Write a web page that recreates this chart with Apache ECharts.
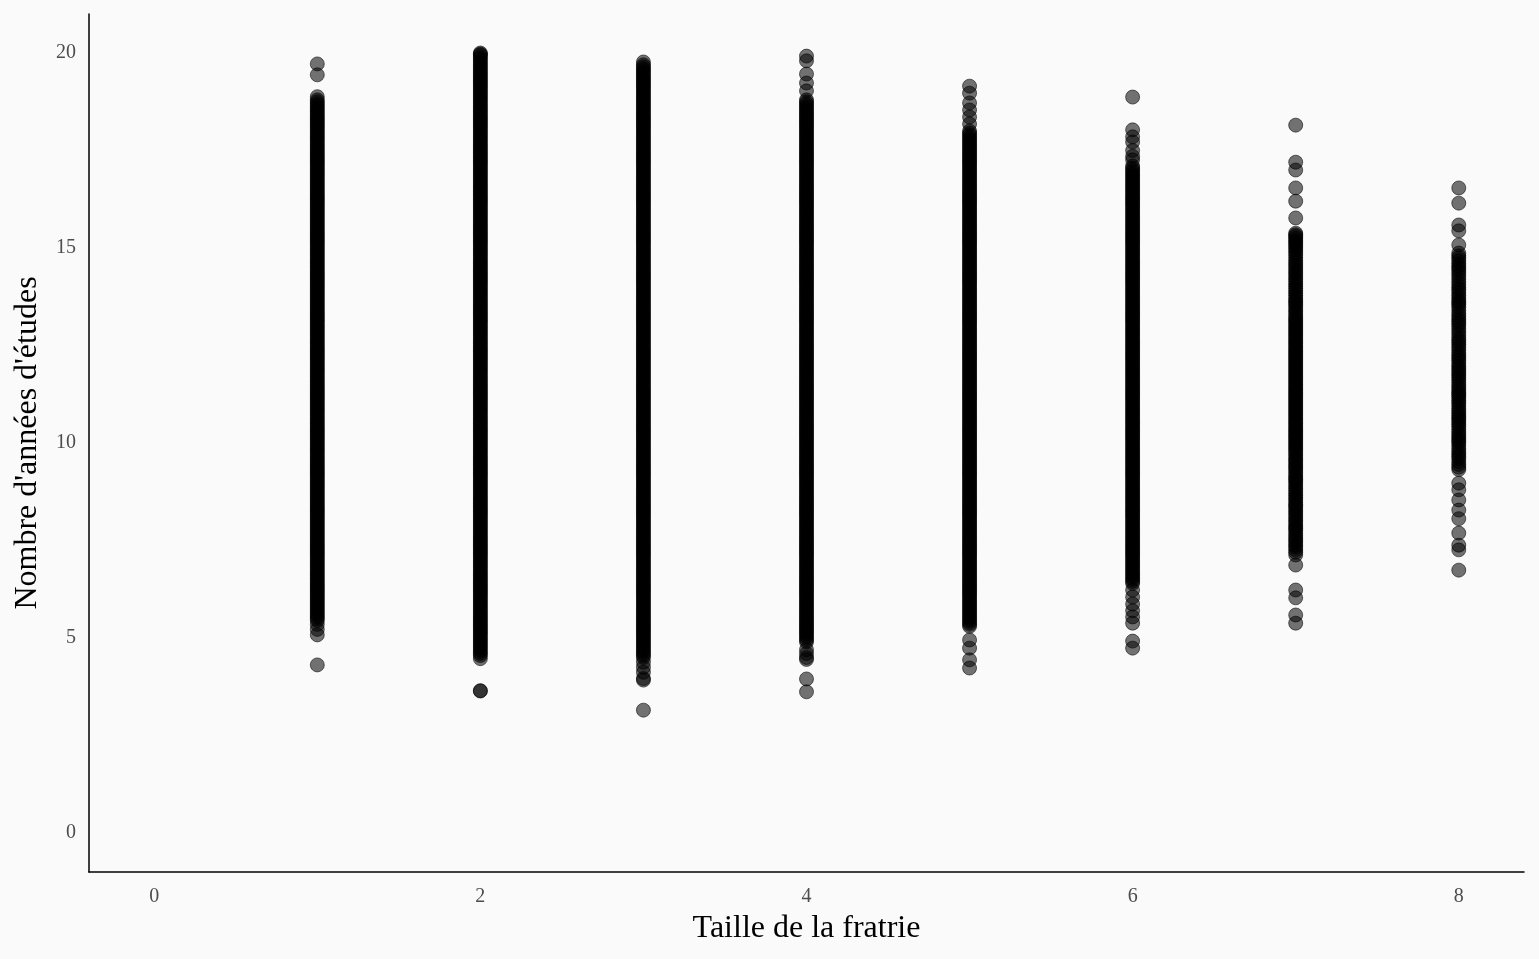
<!DOCTYPE html>
<html>
<head>
<meta charset="utf-8">
<title>Taille de la fratrie et années d'études</title>
<script src="https://cdn.jsdelivr.net/npm/echarts@6/dist/echarts.min.js"></script>
<style>
  html, body { margin: 0; padding: 0; background: #fafafa; }
  #chart { width: 1539px; height: 959px; }
</style>
</head>
<body>
<div id="chart"></div>
<script>
// Taille de la fratrie (x) de chaque groupe
const taillesFratrie = [1, 2, 3, 4, 5, 6, 7, 8];

// Nombre d'années d'études observées, par taille de fratrie
const etudesT1 = [
  4.31, 5.08, 5.22, 5.35, 5.45,
  5.5, 5.55, 5.6, 5.65, 5.7, 5.75, 5.8, 5.85, 5.9, 5.95,
  6, 6.05, 6.1, 6.15, 6.2, 6.25, 6.3, 6.35, 6.4, 6.45, 6.5, 6.55, 6.6, 6.65, 6.7, 6.75, 6.8, 6.85, 6.9, 6.95,
  7, 7.05, 7.1, 7.15, 7.2, 7.25, 7.3, 7.35, 7.4, 7.45, 7.5, 7.55, 7.6, 7.65, 7.7, 7.75, 7.8, 7.85, 7.9, 7.95,
  8, 8.05, 8.1, 8.15, 8.2, 8.25, 8.3, 8.35, 8.4, 8.45, 8.5, 8.55, 8.6, 8.65, 8.7, 8.75, 8.8, 8.85, 8.9, 8.95,
  9, 9.05, 9.1, 9.15, 9.2, 9.25, 9.3, 9.35, 9.4, 9.45, 9.5, 9.55, 9.6, 9.65, 9.7, 9.75, 9.8, 9.85, 9.9, 9.95,
  10, 10.05, 10.1, 10.15, 10.2, 10.25, 10.3, 10.35, 10.4, 10.45, 10.5, 10.55, 10.6, 10.65, 10.7, 10.75, 10.8, 10.85, 10.9, 10.95,
  11, 11.05, 11.1, 11.15, 11.2, 11.25, 11.3, 11.35, 11.4, 11.45, 11.5, 11.55, 11.6, 11.65, 11.7, 11.75, 11.8, 11.85, 11.9, 11.95,
  12, 12.05, 12.1, 12.15, 12.2, 12.25, 12.3, 12.35, 12.4, 12.45, 12.5, 12.55, 12.6, 12.65, 12.7, 12.75, 12.8, 12.85, 12.9, 12.95,
  13, 13.05, 13.1, 13.15, 13.2, 13.25, 13.3, 13.35, 13.4, 13.45, 13.5, 13.55, 13.6, 13.65, 13.7, 13.75, 13.8, 13.85, 13.9, 13.95,
  14, 14.05, 14.1, 14.15, 14.2, 14.25, 14.3, 14.35, 14.4, 14.45, 14.5, 14.55, 14.6, 14.65, 14.7, 14.75, 14.8, 14.85, 14.9, 14.95,
  15, 15.05, 15.1, 15.15, 15.2, 15.25, 15.3, 15.35, 15.4, 15.45, 15.5, 15.55, 15.6, 15.65, 15.7, 15.75, 15.8, 15.85, 15.9, 15.95,
  16, 16.05, 16.1, 16.15, 16.2, 16.25, 16.3, 16.35, 16.4, 16.45, 16.5, 16.55, 16.6, 16.65, 16.7, 16.75, 16.8, 16.85, 16.9, 16.95,
  17, 17.05, 17.1, 17.15, 17.2, 17.25, 17.3, 17.35, 17.4, 17.45, 17.5, 17.55, 17.6, 17.65, 17.7, 17.75, 17.8, 17.85, 17.9, 17.95,
  18, 18.05, 18.1, 18.15, 18.2, 18.25, 18.3, 18.35, 18.4, 18.45, 18.5, 18.55, 18.6, 18.65, 18.7, 18.75, 18.8, 18.88,
  19.44, 19.72
];
const etudesT2 = [
  3.64, 3.65, 4.47, 4.55,
  4.6, 4.65, 4.7, 4.75, 4.8, 4.85, 4.9, 4.95,
  5, 5.05, 5.1, 5.15, 5.2, 5.25, 5.3, 5.35, 5.4, 5.45, 5.5, 5.55, 5.6, 5.65, 5.7, 5.75, 5.8, 5.85, 5.9, 5.95,
  6, 6.05, 6.1, 6.15, 6.2, 6.25, 6.3, 6.35, 6.4, 6.45, 6.5, 6.55, 6.6, 6.65, 6.7, 6.75, 6.8, 6.85, 6.9, 6.95,
  7, 7.05, 7.1, 7.15, 7.2, 7.25, 7.3, 7.35, 7.4, 7.45, 7.5, 7.55, 7.6, 7.65, 7.7, 7.75, 7.8, 7.85, 7.9, 7.95,
  8, 8.05, 8.1, 8.15, 8.2, 8.25, 8.3, 8.35, 8.4, 8.45, 8.5, 8.55, 8.6, 8.65, 8.7, 8.75, 8.8, 8.85, 8.9, 8.95,
  9, 9.05, 9.1, 9.15, 9.2, 9.25, 9.3, 9.35, 9.4, 9.45, 9.5, 9.55, 9.6, 9.65, 9.7, 9.75, 9.8, 9.85, 9.9, 9.95,
  10, 10.05, 10.1, 10.15, 10.2, 10.25, 10.3, 10.35, 10.4, 10.45, 10.5, 10.55, 10.6, 10.65, 10.7, 10.75, 10.8, 10.85, 10.9, 10.95,
  11, 11.05, 11.1, 11.15, 11.2, 11.25, 11.3, 11.35, 11.4, 11.45, 11.5, 11.55, 11.6, 11.65, 11.7, 11.75, 11.8, 11.85, 11.9, 11.95,
  12, 12.05, 12.1, 12.15, 12.2, 12.25, 12.3, 12.35, 12.4, 12.45, 12.5, 12.55, 12.6, 12.65, 12.7, 12.75, 12.8, 12.85, 12.9, 12.95,
  13, 13.05, 13.1, 13.15, 13.2, 13.25, 13.3, 13.35, 13.4, 13.45, 13.5, 13.55, 13.6, 13.65, 13.7, 13.75, 13.8, 13.85, 13.9, 13.95,
  14, 14.05, 14.1, 14.15, 14.2, 14.25, 14.3, 14.35, 14.4, 14.45, 14.5, 14.55, 14.6, 14.65, 14.7, 14.75, 14.8, 14.85, 14.9, 14.95,
  15, 15.05, 15.1, 15.15, 15.2, 15.25, 15.3, 15.35, 15.4, 15.45, 15.5, 15.55, 15.6, 15.65, 15.7, 15.75, 15.8, 15.85, 15.9, 15.95,
  16, 16.05, 16.1, 16.15, 16.2, 16.25, 16.3, 16.35, 16.4, 16.45, 16.5, 16.55, 16.6, 16.65, 16.7, 16.75, 16.8, 16.85, 16.9, 16.95,
  17, 17.05, 17.1, 17.15, 17.2, 17.25, 17.3, 17.35, 17.4, 17.45, 17.5, 17.55, 17.6, 17.65, 17.7, 17.75, 17.8, 17.85, 17.9, 17.95,
  18, 18.05, 18.1, 18.15, 18.2, 18.25, 18.3, 18.35, 18.4, 18.45, 18.5, 18.55, 18.6, 18.65, 18.7, 18.75, 18.8, 18.85, 18.9, 18.95,
  19, 19.05, 19.1, 19.15, 19.2, 19.25, 19.3, 19.35, 19.4, 19.45, 19.5, 19.55, 19.6, 19.65, 19.7, 19.75, 19.8, 19.85, 19.9, 19.95,
  19.97, 20
];
const etudesT3 = [
  3.15, 3.92, 3.96, 4.12, 4.25, 4.38,
  4.5, 4.55, 4.6, 4.65, 4.7, 4.75, 4.8, 4.85, 4.9, 4.95,
  5, 5.05, 5.1, 5.15, 5.2, 5.25, 5.3, 5.35, 5.4, 5.45, 5.5, 5.55, 5.6, 5.65, 5.7, 5.75, 5.8, 5.85, 5.9, 5.95,
  6, 6.05, 6.1, 6.15, 6.2, 6.25, 6.3, 6.35, 6.4, 6.45, 6.5, 6.55, 6.6, 6.65, 6.7, 6.75, 6.8, 6.85, 6.9, 6.95,
  7, 7.05, 7.1, 7.15, 7.2, 7.25, 7.3, 7.35, 7.4, 7.45, 7.5, 7.55, 7.6, 7.65, 7.7, 7.75, 7.8, 7.85, 7.9, 7.95,
  8, 8.05, 8.1, 8.15, 8.2, 8.25, 8.3, 8.35, 8.4, 8.45, 8.5, 8.55, 8.6, 8.65, 8.7, 8.75, 8.8, 8.85, 8.9, 8.95,
  9, 9.05, 9.1, 9.15, 9.2, 9.25, 9.3, 9.35, 9.4, 9.45, 9.5, 9.55, 9.6, 9.65, 9.7, 9.75, 9.8, 9.85, 9.9, 9.95,
  10, 10.05, 10.1, 10.15, 10.2, 10.25, 10.3, 10.35, 10.4, 10.45, 10.5, 10.55, 10.6, 10.65, 10.7, 10.75, 10.8, 10.85, 10.9, 10.95,
  11, 11.05, 11.1, 11.15, 11.2, 11.25, 11.3, 11.35, 11.4, 11.45, 11.5, 11.55, 11.6, 11.65, 11.7, 11.75, 11.8, 11.85, 11.9, 11.95,
  12, 12.05, 12.1, 12.15, 12.2, 12.25, 12.3, 12.35, 12.4, 12.45, 12.5, 12.55, 12.6, 12.65, 12.7, 12.75, 12.8, 12.85, 12.9, 12.95,
  13, 13.05, 13.1, 13.15, 13.2, 13.25, 13.3, 13.35, 13.4, 13.45, 13.5, 13.55, 13.6, 13.65, 13.7, 13.75, 13.8, 13.85, 13.9, 13.95,
  14, 14.05, 14.1, 14.15, 14.2, 14.25, 14.3, 14.35, 14.4, 14.45, 14.5, 14.55, 14.6, 14.65, 14.7, 14.75, 14.8, 14.85, 14.9, 14.95,
  15, 15.05, 15.1, 15.15, 15.2, 15.25, 15.3, 15.35, 15.4, 15.45, 15.5, 15.55, 15.6, 15.65, 15.7, 15.75, 15.8, 15.85, 15.9, 15.95,
  16, 16.05, 16.1, 16.15, 16.2, 16.25, 16.3, 16.35, 16.4, 16.45, 16.5, 16.55, 16.6, 16.65, 16.7, 16.75, 16.8, 16.85, 16.9, 16.95,
  17, 17.05, 17.1, 17.15, 17.2, 17.25, 17.3, 17.35, 17.4, 17.45, 17.5, 17.55, 17.6, 17.65, 17.7, 17.75, 17.8, 17.85, 17.9, 17.95,
  18, 18.05, 18.1, 18.15, 18.2, 18.25, 18.3, 18.35, 18.4, 18.45, 18.5, 18.55, 18.6, 18.65, 18.7, 18.75, 18.8, 18.85, 18.9, 18.95,
  19, 19.05, 19.1, 19.15, 19.2, 19.25, 19.3, 19.35, 19.4, 19.45, 19.5, 19.55, 19.6, 19.65, 19.7, 19.77
];
const etudesT4 = [
  3.62, 3.95, 4.45, 4.5, 4.6, 4.7,
  4.9, 4.95,
  5, 5.05, 5.1, 5.15, 5.2, 5.25, 5.3, 5.35, 5.4, 5.45, 5.5, 5.55, 5.6, 5.65, 5.7, 5.75, 5.8, 5.85, 5.9, 5.95,
  6, 6.05, 6.1, 6.15, 6.2, 6.25, 6.3, 6.35, 6.4, 6.45, 6.5, 6.55, 6.6, 6.65, 6.7, 6.75, 6.8, 6.85, 6.9, 6.95,
  7, 7.05, 7.1, 7.15, 7.2, 7.25, 7.3, 7.35, 7.4, 7.45, 7.5, 7.55, 7.6, 7.65, 7.7, 7.75, 7.8, 7.85, 7.9, 7.95,
  8, 8.05, 8.1, 8.15, 8.2, 8.25, 8.3, 8.35, 8.4, 8.45, 8.5, 8.55, 8.6, 8.65, 8.7, 8.75, 8.8, 8.85, 8.9, 8.95,
  9, 9.05, 9.1, 9.15, 9.2, 9.25, 9.3, 9.35, 9.4, 9.45, 9.5, 9.55, 9.6, 9.65, 9.7, 9.75, 9.8, 9.85, 9.9, 9.95,
  10, 10.05, 10.1, 10.15, 10.2, 10.25, 10.3, 10.35, 10.4, 10.45, 10.5, 10.55, 10.6, 10.65, 10.7, 10.75, 10.8, 10.85, 10.9, 10.95,
  11, 11.05, 11.1, 11.15, 11.2, 11.25, 11.3, 11.35, 11.4, 11.45, 11.5, 11.55, 11.6, 11.65, 11.7, 11.75, 11.8, 11.85, 11.9, 11.95,
  12, 12.05, 12.1, 12.15, 12.2, 12.25, 12.3, 12.35, 12.4, 12.45, 12.5, 12.55, 12.6, 12.65, 12.7, 12.75, 12.8, 12.85, 12.9, 12.95,
  13, 13.05, 13.1, 13.15, 13.2, 13.25, 13.3, 13.35, 13.4, 13.45, 13.5, 13.55, 13.6, 13.65, 13.7, 13.75, 13.8, 13.85, 13.9, 13.95,
  14, 14.05, 14.1, 14.15, 14.2, 14.25, 14.3, 14.35, 14.4, 14.45, 14.5, 14.55, 14.6, 14.65, 14.7, 14.75, 14.8, 14.85, 14.9, 14.95,
  15, 15.05, 15.1, 15.15, 15.2, 15.25, 15.3, 15.35, 15.4, 15.45, 15.5, 15.55, 15.6, 15.65, 15.7, 15.75, 15.8, 15.85, 15.9, 15.95,
  16, 16.05, 16.1, 16.15, 16.2, 16.25, 16.3, 16.35, 16.4, 16.45, 16.5, 16.55, 16.6, 16.65, 16.7, 16.75, 16.8, 16.85, 16.9, 16.95,
  17, 17.05, 17.1, 17.15, 17.2, 17.25, 17.3, 17.35, 17.4, 17.45, 17.5, 17.55, 17.6, 17.65, 17.7, 17.75, 17.8, 17.85, 17.9, 17.95,
  18, 18.05, 18.1, 18.15, 18.2, 18.25, 18.3, 18.35, 18.4, 18.45, 18.5, 18.55, 18.6, 18.65, 18.7, 18.75, 18.8,
  19.03, 19.23, 19.46, 19.8, 19.92
];
const etudesT5 = [
  4.23, 4.44, 4.74, 4.95, 5.3, 5.35,
  5.4, 5.45, 5.5, 5.55, 5.6, 5.65, 5.7, 5.75, 5.8, 5.85, 5.9, 5.95,
  6, 6.05, 6.1, 6.15, 6.2, 6.25, 6.3, 6.35, 6.4, 6.45, 6.5, 6.55, 6.6, 6.65, 6.7, 6.75, 6.8, 6.85, 6.9, 6.95,
  7, 7.05, 7.1, 7.15, 7.2, 7.25, 7.3, 7.35, 7.4, 7.45, 7.5, 7.55, 7.6, 7.65, 7.7, 7.75, 7.8, 7.85, 7.9, 7.95,
  8, 8.05, 8.1, 8.15, 8.2, 8.25, 8.3, 8.35, 8.4, 8.45, 8.5, 8.55, 8.6, 8.65, 8.7, 8.75, 8.8, 8.85, 8.9, 8.95,
  9, 9.05, 9.1, 9.15, 9.2, 9.25, 9.3, 9.35, 9.4, 9.45, 9.5, 9.55, 9.6, 9.65, 9.7, 9.75, 9.8, 9.85, 9.9, 9.95,
  10, 10.05, 10.1, 10.15, 10.2, 10.25, 10.3, 10.35, 10.4, 10.45, 10.5, 10.55, 10.6, 10.65, 10.7, 10.75, 10.8, 10.85, 10.9, 10.95,
  11, 11.05, 11.1, 11.15, 11.2, 11.25, 11.3, 11.35, 11.4, 11.45, 11.5, 11.55, 11.6, 11.65, 11.7, 11.75, 11.8, 11.85, 11.9, 11.95,
  12, 12.05, 12.1, 12.15, 12.2, 12.25, 12.3, 12.35, 12.4, 12.45, 12.5, 12.55, 12.6, 12.65, 12.7, 12.75, 12.8, 12.85, 12.9, 12.95,
  13, 13.05, 13.1, 13.15, 13.2, 13.25, 13.3, 13.35, 13.4, 13.45, 13.5, 13.55, 13.6, 13.65, 13.7, 13.75, 13.8, 13.85, 13.9, 13.95,
  14, 14.05, 14.1, 14.15, 14.2, 14.25, 14.3, 14.35, 14.4, 14.45, 14.5, 14.55, 14.6, 14.65, 14.7, 14.75, 14.8, 14.85, 14.9, 14.95,
  15, 15.05, 15.1, 15.15, 15.2, 15.25, 15.3, 15.35, 15.4, 15.45, 15.5, 15.55, 15.6, 15.65, 15.7, 15.75, 15.8, 15.85, 15.9, 15.95,
  16, 16.05, 16.1, 16.15, 16.2, 16.25, 16.3, 16.35, 16.4, 16.45, 16.5, 16.55, 16.6, 16.65, 16.7, 16.75, 16.8, 16.85, 16.9, 16.95,
  17, 17.05, 17.1, 17.15, 17.2, 17.25, 17.3, 17.35, 17.4, 17.45, 17.5, 17.55, 17.6, 17.65, 17.7, 17.75, 17.8, 17.85, 17.9, 17.95,
  18, 18.18, 18.36, 18.54, 18.72, 18.97, 19.15
];
const etudesT6 = [
  4.74, 4.92, 5.38, 5.54, 5.7, 5.87, 6.05, 6.23,
  6.4, 6.45, 6.5, 6.55, 6.6, 6.65, 6.7, 6.75, 6.8, 6.85, 6.9, 6.95,
  7, 7.05, 7.1, 7.15, 7.2, 7.25, 7.3, 7.35, 7.4, 7.45, 7.5, 7.55, 7.6, 7.65, 7.7, 7.75, 7.8, 7.85, 7.9, 7.95,
  8, 8.05, 8.1, 8.15, 8.2, 8.25, 8.3, 8.35, 8.4, 8.45, 8.5, 8.55, 8.6, 8.65, 8.7, 8.75, 8.8, 8.85, 8.9, 8.95,
  9, 9.05, 9.1, 9.15, 9.2, 9.25, 9.3, 9.35, 9.4, 9.45, 9.5, 9.55, 9.6, 9.65, 9.7, 9.75, 9.8, 9.85, 9.9, 9.95,
  10, 10.05, 10.1, 10.15, 10.2, 10.25, 10.3, 10.35, 10.4, 10.45, 10.5, 10.55, 10.6, 10.65, 10.7, 10.75, 10.8, 10.85, 10.9, 10.95,
  11, 11.05, 11.1, 11.15, 11.2, 11.25, 11.3, 11.35, 11.4, 11.45, 11.5, 11.55, 11.6, 11.65, 11.7, 11.75, 11.8, 11.85, 11.9, 11.95,
  12, 12.05, 12.1, 12.15, 12.2, 12.25, 12.3, 12.35, 12.4, 12.45, 12.5, 12.55, 12.6, 12.65, 12.7, 12.75, 12.8, 12.85, 12.9, 12.95,
  13, 13.05, 13.1, 13.15, 13.2, 13.25, 13.3, 13.35, 13.4, 13.45, 13.5, 13.55, 13.6, 13.65, 13.7, 13.75, 13.8, 13.85, 13.9, 13.95,
  14, 14.05, 14.1, 14.15, 14.2, 14.25, 14.3, 14.35, 14.4, 14.45, 14.5, 14.55, 14.6, 14.65, 14.7, 14.75, 14.8, 14.85, 14.9, 14.95,
  15, 15.05, 15.1, 15.15, 15.2, 15.25, 15.3, 15.35, 15.4, 15.45, 15.5, 15.55, 15.6, 15.65, 15.7, 15.75, 15.8, 15.85, 15.9, 15.95,
  16, 16.05, 16.1, 16.15, 16.2, 16.25, 16.3, 16.35, 16.4, 16.45, 16.5, 16.55, 16.6, 16.65, 16.7, 16.75, 16.8, 16.85, 16.9, 16.95,
  17, 17.05, 17.1, 17.26, 17.35, 17.5, 17.72, 17.85, 18.03, 18.87
];
const etudesT7 = [
  5.38, 5.59, 6.03, 6.23, 6.87, 7.13, 7.2, 7.26,
  7.33, 7.38, 7.45, 7.5, 7.56, 7.62, 7.68, 7.75, 7.8, 7.85, 7.9, 7.96,
  8.02, 8.08, 8.14, 8.2, 8.26, 8.32, 8.38, 8.42, 8.48, 8.55, 8.6, 8.66, 8.72, 8.78, 8.84, 8.9, 8.96,
  9.02, 9.07, 9.12, 9.18, 9.24, 9.3, 9.36, 9.41, 9.46, 9.52, 9.57, 9.62, 9.68, 9.74, 9.8, 9.85, 9.9, 9.95,
  10, 10.05, 10.1, 10.15, 10.2, 10.25, 10.3, 10.35, 10.4, 10.45, 10.5, 10.55, 10.6, 10.65, 10.7, 10.75, 10.8, 10.85, 10.9, 10.95,
  11, 11.05, 11.1, 11.15, 11.2, 11.25, 11.3, 11.35, 11.4, 11.45, 11.5, 11.55, 11.6, 11.65, 11.7, 11.75, 11.8, 11.85, 11.9, 11.95,
  12, 12.05, 12.1, 12.15, 12.2, 12.25, 12.3, 12.35, 12.4, 12.45, 12.5, 12.55, 12.6, 12.65, 12.7, 12.75, 12.8, 12.85, 12.9, 12.95,
  13, 13.05, 13.1, 13.15, 13.2, 13.26, 13.32, 13.38, 13.44, 13.5, 13.56, 13.61, 13.66, 13.72, 13.78, 13.84, 13.9, 13.96,
  14.02, 14.08, 14.14, 14.2, 14.26, 14.32, 14.38, 14.44, 14.5, 14.56, 14.62, 14.68, 14.75, 14.82, 14.88, 14.94,
  15, 15.05, 15.1, 15.15, 15.2, 15.25, 15.3, 15.34, 15.38, 15.77, 16.2, 16.54, 17, 17.2, 18.15
];
const etudesT8 = [
  6.74, 7.26, 7.38, 7.69, 8.06, 8.28, 8.54, 8.8, 8.97,
  9.32, 9.38, 9.45, 9.52, 9.6, 9.66, 9.72, 9.78, 9.85, 9.92, 10, 10.05, 10.1, 10.16, 10.22, 10.28, 10.35, 10.42, 10.48,
  10.54, 10.6, 10.65, 10.7, 10.76, 10.82, 10.88, 10.95, 11.02, 11.08, 11.14, 11.2, 11.25, 11.3, 11.36, 11.42, 11.48, 11.55, 11.62, 11.68,
  11.74, 11.8, 11.86, 11.92, 11.98, 12.05, 12.12, 12.18, 12.24, 12.3, 12.38, 12.45, 12.52, 12.58, 12.64, 12.7, 12.78, 12.85, 12.92, 13,
  13.06, 13.12, 13.18, 13.25, 13.32, 13.4, 13.48, 13.55, 13.6, 13.65, 13.72, 13.78, 13.85, 13.92, 13.98, 14.05, 14.12, 14.2, 14.28, 14.35,
  14.42, 14.48, 14.54, 14.6, 14.67, 14.74, 14.8, 14.87, 15.08, 15.44, 15.59, 16.15, 16.54
];

// Graduations affichées sur les axes
const xTicks = [0, 2, 4, 6, 8];
const yTicks = [0, 5, 10, 15, 20];

const groupes = [etudesT1, etudesT2, etudesT3, etudesT4, etudesT5, etudesT6, etudesT7, etudesT8];
const points = [];
groupes.forEach((valeurs, i) => {
  valeurs.forEach(v => points.push([taillesFratrie[i], v]));
});

const police = '"Liberation Serif", "DejaVu Serif", serif';

const chart = echarts.init(document.getElementById('chart'), null, { renderer: 'canvas' });
chart.setOption({
  backgroundColor: '#fafafa',
  animation: false,
  grid: { left: 89, right: 15, top: 14, bottom: 87 },
  xAxis: {
    type: 'value',
    min: -0.4,
    max: 8.4,
    axisLine: { show: true, onZero: false, lineStyle: { color: '#000', width: 1.5 } },
    axisTick: { show: false },
    splitLine: { show: false },
    axisLabel: {
      customValues: xTicks,
      color: '#4d4d4d',
      fontFamily: police,
      fontSize: 20,
      margin: 15
    },
    name: 'Taille de la fratrie',
    nameLocation: 'middle',
    nameGap: 41,
    nameTextStyle: { color: '#000', fontFamily: police, fontSize: 32 }
  },
  yAxis: {
    type: 'value',
    min: -1,
    max: 21,
    axisLine: { show: true, onZero: false, lineStyle: { color: '#000', width: 1.5 } },
    axisTick: { show: false },
    splitLine: { show: false },
    axisLabel: {
      customValues: yTicks,
      color: '#4d4d4d',
      fontFamily: police,
      fontSize: 20,
      margin: 13
    },
    name: "Nombre d'années d'études",
    nameLocation: 'middle',
    nameGap: 45,
    nameRotate: 90,
    nameTextStyle: { color: '#000', fontFamily: police, fontSize: 32 }
  },
  series: [{
    type: 'scatter',
    data: points,
    symbol: 'circle',
    symbolSize: 14,
    large: false,
    progressive: 0,
    itemStyle: { color: '#000', opacity: 0.55, borderColor: '#000', borderWidth: 1 }
  }]
});
</script>
</body>
</html>
